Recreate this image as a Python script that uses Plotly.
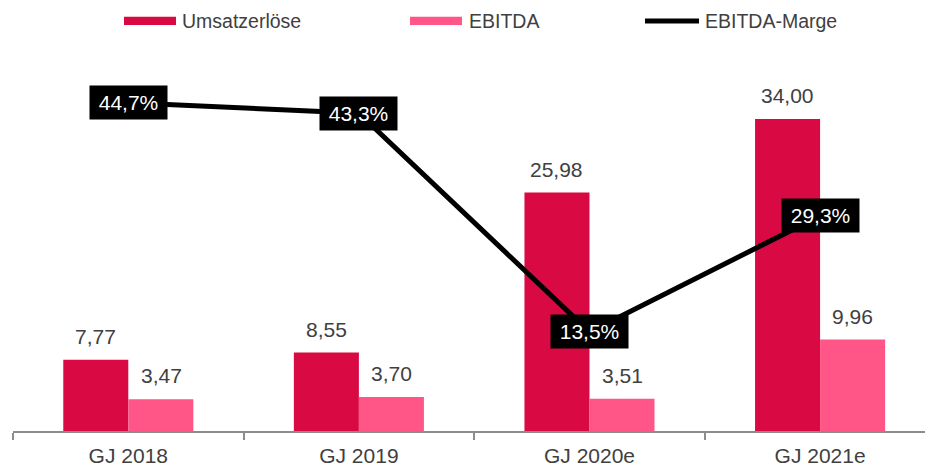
import plotly.graph_objects as go

# Daten
jahre = ["GJ 2018", "GJ 2019", "GJ 2020e", "GJ 2021e"]
umsatz = [7.77, 8.55, 25.98, 34.00]
ebitda = [3.47, 3.70, 3.51, 9.96]
marge = [44.7, 43.3, 13.5, 29.3]

ROT = "#D90A43"
PINK = "#FF5587"
GRAU = "#404040"
FONT = "Arial, Liberation Sans, sans-serif"

W, H = 925, 468
L, R, T, B = 13, 0, 60, 37


def de(v, nach=2):
    return f"{v:.{nach}f}".replace(".", ",")


def px_x(px):
    return (px - L) / (W - L - R)


def px_y(py):
    return (H - B - py) / (H - T - B)


fig = go.Figure()

fig.add_trace(go.Bar(x=jahre, y=umsatz, name="Umsatzerlöse",
                     marker=dict(color=ROT, line=dict(width=0))))
fig.add_trace(go.Bar(x=jahre, y=ebitda, name="EBITDA",
                     marker=dict(color=PINK, line=dict(width=0))))
fig.add_trace(go.Scatter(x=jahre, y=marge, name="EBITDA-Marge", yaxis="y2",
                         mode="lines", line=dict(color="black", width=5)))

annotations = []

# Werte über den Balken
versatz = 0.142
for i, (u, e) in enumerate(zip(umsatz, ebitda)):
    for xv, yv in ((i - versatz, u), (i + versatz, e)):
        annotations.append(dict(
            x=xv, y=yv, xref="x", yref="y", text=de(yv),
            showarrow=False, xanchor="center", yanchor="bottom", yshift=10,
            font=dict(family=FONT, size=21, color=GRAU)
        ))

# Margen-Labels (schwarze Boxen)
for i, m in enumerate(marge):
    annotations.append(dict(
        x=i, y=m, xref="x", yref="y2", text=de(m, 1) + "%",
        showarrow=False, xanchor="center", yanchor="middle",
        width=77, height=33, bgcolor="black", borderpad=0,
        font=dict(family=FONT, size=21, color="white")
    ))

# Legende von Hand
legende = [("Umsatzerlöse", 124, 176, 180, "rect", ROT),
           ("EBITDA", 410, 462, 467, "rect", PINK),
           ("EBITDA-Marge", 645, 699, 703, "line", "black")]
shapes = []
for text, x0, x1, xt, art, farbe in legende:
    if art == "rect":
        shapes.append(dict(type="rect", xref="paper", yref="paper",
                           x0=px_x(x0), x1=px_x(x1), y0=px_y(25), y1=px_y(16.7),
                           fillcolor=farbe, line=dict(width=0)))
    else:
        shapes.append(dict(type="line", xref="paper", yref="paper",
                           x0=px_x(x0), x1=px_x(x1), y0=px_y(21), y1=px_y(21),
                           line=dict(color=farbe, width=5)))
    annotations.append(dict(
        x=px_x(xt), y=px_y(21), xref="paper", yref="paper", text=text,
        showarrow=False, xanchor="left", yanchor="middle",
        font=dict(family=FONT, size=19.5, color=GRAU)
    ))

fig.update_layout(
    width=W, height=H,
    margin=dict(l=L, r=R, t=T, b=B),
    paper_bgcolor="white", plot_bgcolor="white",
    barmode="group", bargap=0.436, bargroupgap=0,
    showlegend=False, hovermode=False,
    font=dict(family=FONT, color=GRAU),
    xaxis=dict(
        type="category", range=[-0.5, 3.455],
        showline=True, linecolor="#8c8c8c", linewidth=2,
        ticks="outside", tickson="boundaries", ticklen=7,
        tickcolor="#8c8c8c", tickwidth=2, ticklabelstandoff=5,
        tickfont=dict(family=FONT, size=21, color=GRAU),
        showgrid=False, zeroline=False
    ),
    yaxis=dict(range=[0, 40.43], visible=False, showgrid=False),
    yaxis2=dict(range=[0, 50.54], overlaying="y", visible=False, showgrid=False),
    annotations=annotations,
    shapes=shapes
)

# Seitenrand entfernen, damit das Bild bei (0,0) beginnt
fig.write_html("out.html",
               config={"displayModeBar": False},
               post_script="document.body.style.margin='0';"
                           "document.body.style.overflow='hidden';")
